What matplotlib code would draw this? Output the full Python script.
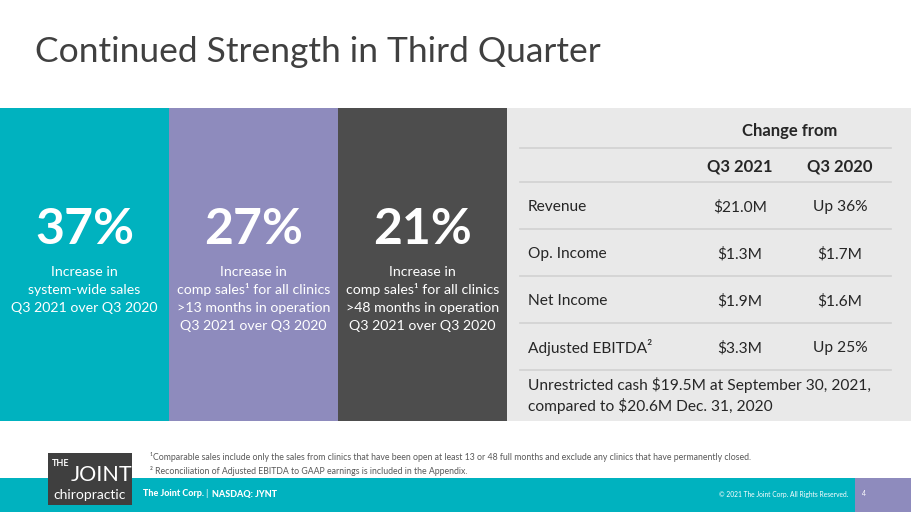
import matplotlib.pyplot as plt
from matplotlib.patches import Rectangle

plt.rcParams['font.family'] = ['Lato', 'DejaVu Sans']

# slide content
title = "Continued Strength in Third Quarter"
big_numbers = ["37%", "27%", "21%"]
descriptions = [
    ["Increase in", "system-wide sales", "Q3 2021 over Q3 2020"],
    ["Increase in", "comp sales\u00b9 for all clinics", ">13 months in operation", "Q3 2021 over Q3 2020"],
    ["Increase in", "comp sales\u00b9 for all clinics", ">48 months in operation", "Q3 2021 over Q3 2020"],
]
panel_colors = ["#00b2bf", "#8e8bbd", "#4d4d4d"]

table_header = "Change from"
table_cols = ["Q3 2021", "Q3 2020"]
row_labels = ["Revenue", "Op. Income", "Net Income", "Adjusted EBITDA\u00b2"]
col_q3_2021 = ["$21.0M", "$1.3M", "$1.9M", "$3.3M"]
col_q3_2020 = ["Up 36%", "$1.7M", "$1.6M", "Up 25%"]
cash_note = ["Unrestricted cash $19.5M at September 30, 2021,", "compared to $20.6M Dec. 31, 2020"]

footnotes = [
    "\u00b9Comparable sales include only the sales from clinics that have been open at least 13 or 48 full months and exclude any clinics that have permanently closed.",
    "\u00b2 Reconciliation of Adjusted EBITDA to GAAP earnings is included in the Appendix.",
]

fig = plt.figure(figsize=(9.11, 5.12), dpi=100)
ax = fig.add_axes([0, 0, 1, 1])
ax.set_xlim(0, 911)
ax.set_ylim(512, 0)
ax.axis('off')

ax.text(35, 52, title, fontsize=25.5, color="#404040", va='center', ha='left')

# three coloured panels
pw = 169
for i, (num, desc, c) in enumerate(zip(big_numbers, descriptions, panel_colors)):
    x0 = i * pw
    ax.add_patch(Rectangle((x0, 108), pw, 313, color=c, lw=0))
    cx = x0 + pw / 2
    ax.text(cx, 230, num, fontsize=36, fontweight='bold', color='white', ha='center', va='center')
    for j, line in enumerate(desc):
        ax.text(cx, 272 + j * 18, line, fontsize=10.2, color='white', ha='center', va='center')

# table panel
ax.add_patch(Rectangle((507, 108), 404, 313, color="#e9e9e9", lw=0))
cx1, cx2 = 740, 840
ax.text(790, 131, table_header, fontsize=12, fontweight='bold', color="#262626", ha='center', va='center')
ax.plot([520, 891], [148, 148], color="#d2d2d2", lw=1.2)
ax.text(cx1, 166, table_cols[0], fontsize=12, fontweight='bold', color="#262626", ha='center', va='center')
ax.text(cx2, 166, table_cols[1], fontsize=12, fontweight='bold', color="#262626", ha='center', va='center')
ax.plot([520, 891], [182, 182], color="#d2d2d2", lw=1.2)
for k, (lab, v1, v2) in enumerate(zip(row_labels, col_q3_2021, col_q3_2020)):
    y = 207 + k * 47
    ax.text(528, y, lab, fontsize=11.2, color="#262626", ha='left', va='center')
    ax.text(cx1, y, v1, fontsize=11.2, color="#262626", ha='center', va='center')
    ax.text(cx2, y, v2, fontsize=11.2, color="#262626", ha='center', va='center')
    ax.plot([520, 891], [y + 22, y + 22], color="#d2d2d2", lw=1.2)
for j, line in enumerate(cash_note):
    ax.text(528, 385 + j * 21, line, fontsize=11.2, color="#262626", ha='left', va='center')

# footnotes
ax.text(150, 457, footnotes[0], fontsize=6.3, color="#595959", ha='left', va='center')
ax.text(150, 471, footnotes[1], fontsize=6.3, color="#595959", ha='left', va='center')

# footer band
ax.add_patch(Rectangle((0, 478), 855, 34, color="#00b2bf", lw=0))
ax.add_patch(Rectangle((855, 478), 56, 34, color="#8e8bbd", lw=0))
ax.text(143, 494, "The Joint Corp.", fontsize=6.5, fontweight='black', color='white', ha='left', va='center')
ax.text(205, 494, "|", fontsize=6.5, color='white', ha='left', va='center')
ax.text(212, 494, "NASDAQ: JYNT", fontsize=6.5, fontweight='black', color='white', ha='left', va='center')
ax.text(848, 494, "\u00a9 2021 The Joint Corp. All Rights Reserved.", fontsize=4.8, color='white', ha='right', va='center')
ax.text(862, 494, "4", fontsize=5, color='white', ha='left', va='center')

# logo
ax.add_patch(Rectangle((48, 453), 84, 52, color="#3f3f3f", lw=0, zorder=3))
ax.text(52, 464, "THE", fontsize=6.5, color='white', ha='left', va='center', zorder=4, fontweight='bold')
ax.text(71, 475, "JOINT", fontsize=15.5, color='white', ha='left', va='center', zorder=4)
ax.text(90, 495, "chiropractic", fontsize=10, color='white', ha='center', va='center', zorder=4)

fig.savefig("out.png", dpi=100)
